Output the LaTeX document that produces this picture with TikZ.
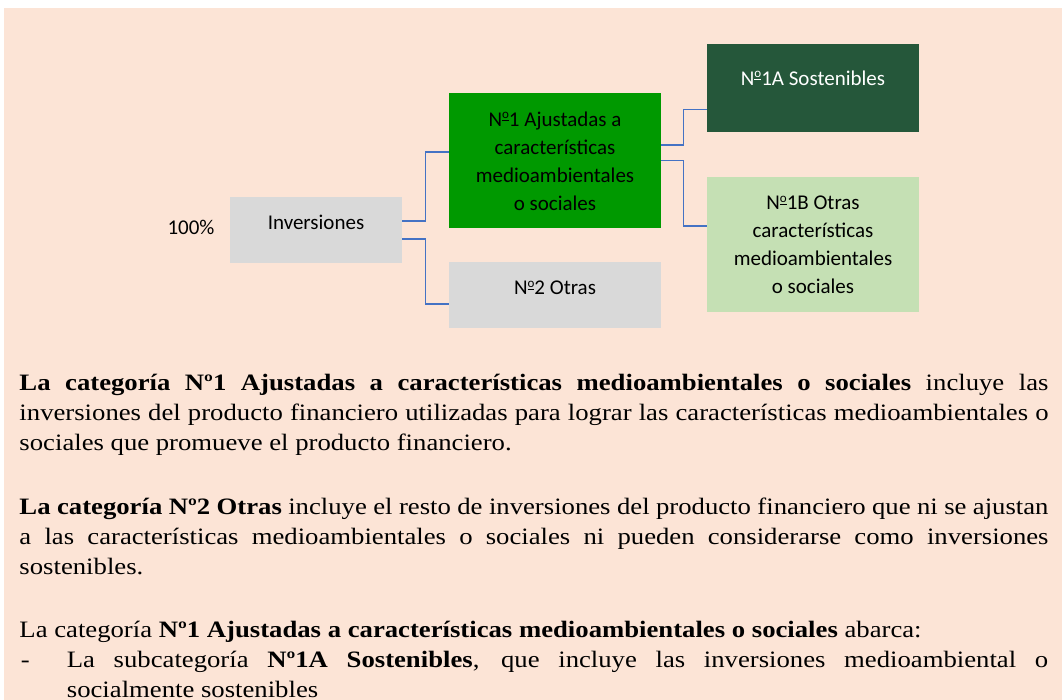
\documentclass[tikz,border=0pt]{standalone}
\usepackage{fontspec}
\setmainfont[FakeStretch=1.136]{Liberation Serif}
\newfontfamily\boxfont{Carlito}
\usetikzlibrary{calc}
\definecolor{bgpeach}{RGB}{252,228,214}
\definecolor{boxgrey}{RGB}{217,217,217}
\definecolor{midgreen}{RGB}{0,153,0}
\definecolor{darkgreen}{RGB}{37,87,58}
\definecolor{lightgreen}{RGB}{197,224,180}
\definecolor{connblue}{RGB}{68,114,196}
\newcommand{\ordmark}{\raisebox{7.6pt}{\fontsize{13}{13}\selectfont\underline{o}}}
\tikzset{
  boxshape/.style={draw=none, inner sep=0pt, minimum width=212pt},
  boxtext/.style={font=\boxfont\fontsize{21}{28}\selectfont, align=center, inner sep=0pt},
  conn/.style={draw=connblue, line width=1.3pt},
  bodytext/.style={font=\fontsize{23.5}{30}\selectfont, inner sep=0pt, anchor=base west}
}
\begin{document}
\begin{tikzpicture}[x=1pt,y=-1pt]
\useasboundingbox (0,0) rectangle (1062,700);
\fill[bgpeach] (4,8) rectangle (1062,700);

% boxes
\node[boxshape, fill=boxgrey, minimum width=172pt, minimum height=66pt] (inv) at (316,230) {};
\node[boxshape, fill=midgreen, minimum height=135pt] (n1) at (555,160.5) {};
\node[boxshape, fill=boxgrey, minimum height=66pt] (n2) at (555,295) {};
\node[boxshape, fill=darkgreen, minimum height=88pt] (n1a) at (813,88) {};
\node[boxshape, fill=lightgreen, minimum height=135pt] (n1b) at (813,244.5) {};

% box texts
\node[boxtext] (t100) at (191,227) {100\%};
\node[boxtext] (tinv) at (316,222) {Inversiones};
\node[boxtext] (tn1) at (555,161) {N\ordmark1 Ajustadas a\\características\\medioambientales\\o sociales};
\node[boxtext] (tn2) at (555,288) {N\ordmark2 Otras};
\node[boxtext, text=white] (tn1a) at (813,78) {N\ordmark1A Sostenibles};
\node[boxtext] (tn1b) at (813,245) {N\ordmark1B Otras\\características\\medioambientales\\o sociales};

% connectors
\draw[conn] ($(inv.east)+(0,-9)$) -- ++(23,0) |- ($(n1.west)+(0,-8.5)$);
\draw[conn] ($(inv.east)+(0,9)$) -- ++(23,0) |- ($(n2.west)+(0,9)$);
\draw[conn] ($(n1.east)+(0,-15.5)$) -- ++(22,0) |- ($(n1a.west)+(0,21.5)$);
\draw[conn] ($(n1.east)+(0,0)$) -- ++(22,0) |- ($(n1b.west)+(0,-18.5)$);

% body text
\node[bodytext, text width=1029pt, align=justify] (p1) at (19.3,390.7)
  {\textbf{La categoría Nº1 Ajustadas a características medioambientales o sociales} incluye las\linebreak
   inversiones del producto financiero utilizadas para lograr las características medioambientales o\linebreak
   sociales que promueve el producto financiero.};
\node[bodytext, text width=1029pt, align=justify] (p2) at (19.3,514)
  {\textbf{La categoría Nº2 Otras} incluye el resto de inversiones del producto financiero que ni se ajustan\linebreak
   a las características medioambientales o sociales ni pueden considerarse como inversiones\linebreak
   sostenibles.};
\node[bodytext] (p3) at (19.3,637.3)
  {La categoría \textbf{Nº1 Ajustadas a características medioambientales o sociales} abarca:};
\node[bodytext] (dash) at (20.7,667.3) {-};
\node[bodytext, text width=981.3pt, align=justify] (p4) at (66.7,667.3)
  {La subcategoría \textbf{Nº1A Sostenibles}, que incluye las inversiones medioambiental o\linebreak
   socialmente sostenibles};
\end{tikzpicture}
\end{document}
